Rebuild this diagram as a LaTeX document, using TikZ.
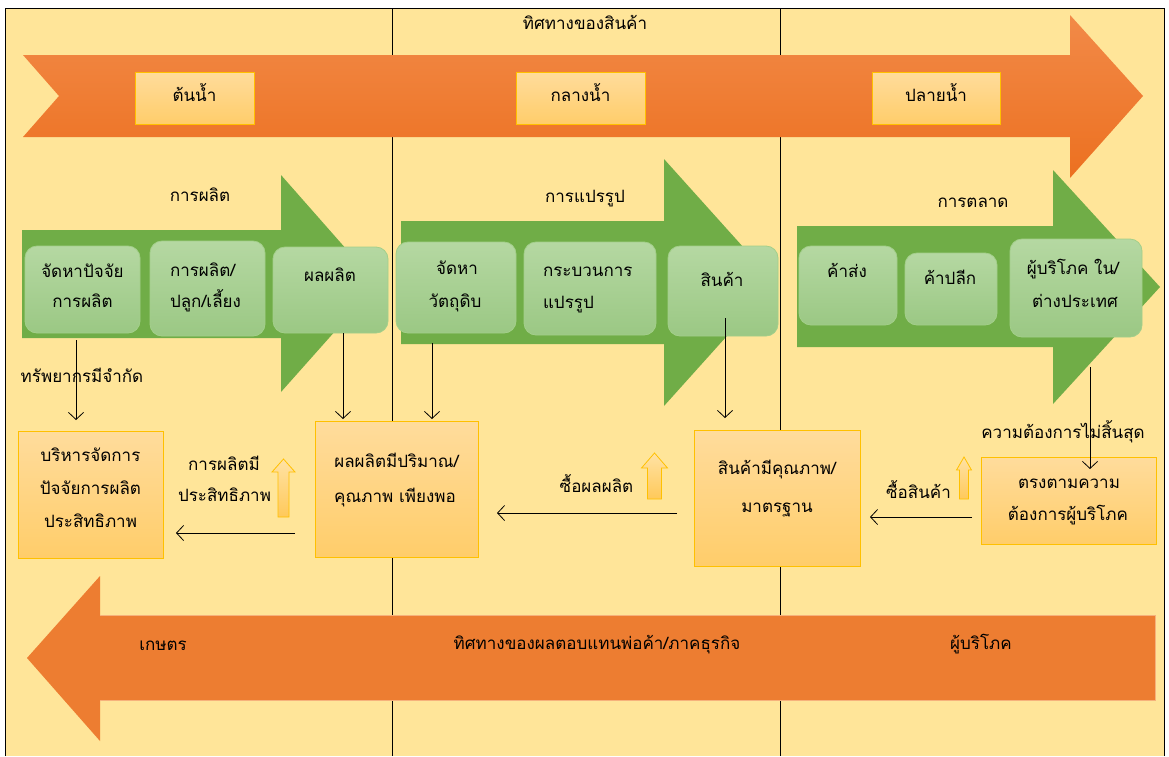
\documentclass[tikz,border=0pt]{standalone}
\usepackage{fontspec}
\newfontfamily\thaifont[Script=Thai]{Loma}
\usetikzlibrary{arrows.meta}
\definecolor{bgc}{HTML}{FFE599}
\definecolor{orTop}{HTML}{F28A48}
\definecolor{orBot}{HTML}{EC7020}
\definecolor{orFlat}{HTML}{ED7D31}
\definecolor{orEdge}{HTML}{F6B27C}
\definecolor{grn}{HTML}{70AD47}
\definecolor{gTop}{HTML}{B5D8A2}
\definecolor{gBot}{HTML}{9BC884}
\definecolor{gEdge}{HTML}{A3CF8A}
\definecolor{oTop}{HTML}{FFDC9C}
\definecolor{oBot}{HTML}{FFCD6A}
\definecolor{oEdge}{HTML}{FFC000}
\definecolor{uTop}{HTML}{FFE2A4}
\definecolor{uBot}{HTML}{FFC95A}
\begin{document}
\begin{tikzpicture}[x=1pt,y=-1pt,
  every node/.style={inner sep=0pt,outer sep=0pt},
  lbl/.style={font=\thaifont\fontsize{17}{20}\selectfont, text=black, text height=11.5pt, text depth=3pt},
  divider/.style={line width=0.8pt, black},
  gbox/.style={rounded corners=12pt, top color=gTop, bottom color=gBot, draw=gEdge, line width=0.8pt},
  obox/.style={top color=oTop, bottom color=oBot, draw=oEdge, line width=1pt},
  upar/.style={top color=uTop, bottom color=uBot, draw=oEdge, line width=0.8pt},
  conn/.style={-{Straight Barb[length=7pt,width=15pt]}, line width=0.8pt, black}
]
\useasboundingbox (0,0) rectangle (1169,756);
\fill[white] (0,0) rectangle (1169,756);
\fill[bgc] (5,8) rectangle (1164,756);
\draw[line width=1pt] (5,756) -- (5,8) -- (1164,8) -- (1164,756);
\draw[divider] (392,8) -- (392,756);
\draw[divider] (780,8) -- (780,756);

% top orange arrow
\shade[top color=orTop, bottom color=orBot] (23,55) -- (1070,55) -- (1070,15) -- (1143,96) -- (1070,178) -- (1070,137) -- (23,137) -- (59,96) -- cycle;
% bottom orange arrow
\fill[orFlat] (1155,616) -- (100,616) -- (100,576) -- (27,658) -- (100,741) -- (100,700) -- (1155,700) -- cycle;
\draw[orEdge, line width=1pt] (100,615.5) -- (1155,615.5) -- (1155,700.5) -- (100,700.5);

% green arrows
\fill[grn] (22,230) -- (281,230) -- (281,175) -- (377,284) -- (281,392) -- (281,338) -- (22,338) -- cycle;
\fill[grn] (401,221) -- (664,221) -- (664,159) -- (775,282.5) -- (664,406) -- (664,344) -- (401,344) -- cycle;
\fill[grn] (797,226) -- (1053,226) -- (1053,170) -- (1160,287) -- (1053,404) -- (1053,347) -- (797,347) -- cycle;

% title
\node[lbl] (title) at (585,25) {ทิศทางของสินค้า};

% top boxes
\node[obox, minimum width=119pt, minimum height=52pt] (t1) at (194.5,98) {};
\node[obox, minimum width=129pt, minimum height=52pt] (t2) at (580.5,98) {};
\node[obox, minimum width=128pt, minimum height=52pt] (t3) at (936,98) {};
\node[lbl] (t1t) at (194.5,97) {ต้นน้ำ};
\node[lbl] (t2t) at (580.5,97) {กลางน้ำ};
\node[lbl] (t3t) at (936,97) {ปลายน้ำ};

% section labels
\node[lbl] (s1) at (200,197) {การผลิต};
\node[lbl] (s2) at (585,198) {การแปรรูป};
\node[lbl] (s3) at (973,203) {การตลาด};

% green boxes
\node[gbox, minimum width=115pt, minimum height=87pt] (g1) at (82.5,289.5) {};
\node[gbox, minimum width=115pt, minimum height=95pt] (g2) at (207.5,288.5) {};
\node[gbox, minimum width=115pt, minimum height=86pt] (g3) at (330.5,290) {};
\node[gbox, minimum width=120pt, minimum height=91pt] (g4) at (456,287.5) {};
\node[gbox, minimum width=132pt, minimum height=93pt] (g5) at (590,288.5) {};
\node[gbox, minimum width=110pt, minimum height=90pt] (g6) at (723,291) {};
\node[gbox, minimum width=98pt, minimum height=79pt] (g7) at (848,285.5) {};
\node[gbox, minimum width=92pt, minimum height=72pt] (g8) at (951,289) {};
\node[gbox, minimum width=132pt, minimum height=98pt] (g9) at (1076,288) {};

\node[lbl] (g1a) at (82.5,273) {จัดหาปัจจัย};
\node[lbl] (g1b) at (82.5,303) {การผลิต};
\node[lbl, anchor=west] (g2a) at (170,272) {การผลิต/};
\node[lbl, anchor=west] (g2b) at (170,303) {ปลูก/เลี้ยง};
\node[lbl] (g3t) at (330,277) {ผลผลิต};
\node[lbl] (g4a) at (457,270) {จัดหา};
\node[lbl] (g4b) at (455,303) {วัตถุดิบ};
\node[lbl, anchor=west] (g5a) at (543,272) {กระบวนการ};
\node[lbl, anchor=west] (g5b) at (543,304) {แปรรูป};
\node[lbl] (g6t) at (722,282) {สินค้า};
\node[lbl] (g7t) at (847,273) {ค้าส่ง};
\node[lbl] (g8t) at (950,280) {ค้าปลีก};
\node[lbl] (g9a) at (1073,270) {ผู้บริโภค ใน/};
\node[lbl] (g9b) at (1075,303) {ต่างประเทศ};

% lower boxes
\node[obox, minimum width=145pt, minimum height=127pt] (b1) at (90.5,494.5) {};
\node[obox, minimum width=163pt, minimum height=136pt] (b2) at (396.5,489) {};
\node[obox, minimum width=166pt, minimum height=136pt] (b3) at (777,498) {};
\node[obox, minimum width=175pt, minimum height=87pt] (b4) at (1068.5,500.5) {};

\node[lbl] (b1a) at (90.5,457) {บริหารจัดการ};
\node[lbl] (b1b) at (90.5,490) {ปัจจัยการผลิต};
\node[lbl] (b1c) at (90.5,523) {ประสิทธิภาพ};
\node[lbl] (b2a) at (396.5,463) {ผลผลิตมีปริมาณ/};
\node[lbl] (b2b) at (395,498) {คุณภาพ เพียงพอ};
\node[lbl] (b3a) at (777,470) {สินค้ามีคุณภาพ/};
\node[lbl] (b3b) at (777,508) {มาตรฐาน};
\node[lbl] (b4a) at (1069,484) {ตรงตามความ};
\node[lbl] (b4b) at (1068,516) {ต้องการผู้บริโภค};

% free labels
\node[lbl] (res) at (82,378) {ทรัพยากรมีจำกัด};
\node[lbl] (need) at (1063,434) {ความต้องการไม่สิ้นสุด};
\node[lbl] (effa) at (224,466) {การผลิตมี};
\node[lbl] (effb) at (224.5,497) {ประสิทธิภาพ};
\node[lbl] (buy1) at (596.5,488) {ซื้อผลผลิต};
\node[lbl] (buy2) at (918.5,494) {ซื้อสินค้า};

% up block arrows
\path[upar] (283.5,459) -- (295,472) -- (289,472) -- (289,517) -- (278,517) -- (278,472) -- (272,472) -- cycle;
\path[upar] (654.5,453) -- (667.5,468) -- (661.5,468) -- (661.5,499) -- (647.5,499) -- (647.5,468) -- (641.5,468) -- cycle;
\path[upar] (964,457) -- (971.5,470) -- (968.5,470) -- (968.5,499) -- (959.5,499) -- (959.5,470) -- (956.5,470) -- cycle;

% connectors
\draw[conn] ([xshift=-6.5pt,yshift=-7pt]g1.south) -- ([xshift=-14.5pt,yshift=11pt]b1.north);
\draw[conn] ([xshift=12.5pt]g3.south) -- ([xshift=-53.5pt,yshift=2pt]b2.north);
\draw[conn] ([xshift=-24pt,yshift=-10pt]g4.south) -- ([xshift=35.5pt,yshift=2pt]b2.north);
\draw[conn] ([xshift=2pt,yshift=18pt]g6.south) -- ([xshift=-52pt,yshift=12pt]b3.north);
\draw[conn] ([xshift=14pt,yshift=-30pt]g9.south) -- ([xshift=21.5pt,yshift=-12pt]b4.north);
\draw[conn] ([xshift=-20pt,yshift=-44pt]b2.west) -- ([xshift=13pt,yshift=-38.5pt]b1.east);
\draw[conn] ([xshift=-17pt,yshift=-15pt]b3.west) -- ([xshift=19pt,yshift=-24pt]b2.east);
\draw[conn] ([xshift=-9pt,yshift=-16.5pt]b4.west) -- ([xshift=10pt,yshift=-19pt]b3.east);

% bottom arrow labels
\node[lbl] (far) at (163,646) {เกษตร};
\node[lbl] (ret) at (597,645) {ทิศทางของผลตอบแทนพ่อค้า/ภาคธุรกิจ};
\node[lbl] (con) at (981,645) {ผู้บริโภค};
\end{tikzpicture}
\end{document}
